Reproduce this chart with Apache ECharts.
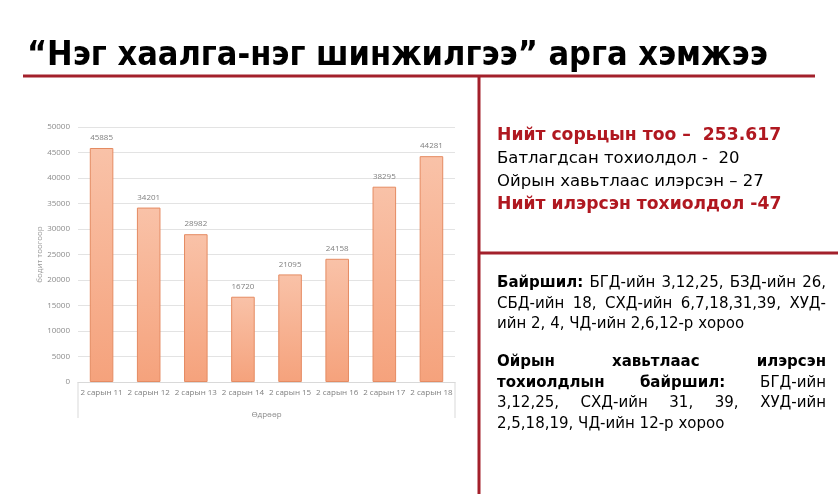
<!DOCTYPE html>
<html>
<head>
<meta charset="utf-8">
<script src="https://cdn.jsdelivr.net/npm/echarts@6/dist/echarts.min.js"></script>
<style>
html,body{margin:0;padding:0;background:#fff;}
#wrap{position:relative;width:838px;height:494px;overflow:hidden;background:#fff;}
#chart{position:absolute;left:0;top:0;width:838px;height:494px;}
.t{position:absolute;white-space:pre;color:#000;}
#title{left:27px;top:33px;font-family:"DejaVu Sans Condensed","DejaVu Sans",sans-serif;font-weight:bold;font-size:34px;}
.r1{left:497px;font-family:"DejaVu Sans",sans-serif;font-size:16.5px;line-height:23px;}
.red{color:#b01820;font-weight:bold;font-size:17.2px;}
.pl{position:absolute;left:497px;width:329px;font-family:"DejaVu Sans",sans-serif;font-size:15px;line-height:20px;height:20px;white-space:nowrap;color:#000;overflow:visible;}
.pl.j{text-align:justify;text-align-last:justify;}
</style>
</head>
<body>
<div id="wrap">
<div id="chart"></div>
<div class="t" id="title"></div>
<div class="t r1 red" style="top:123px" id="l1"></div>
<div class="t r1" style="top:146px" id="l2"></div>
<div class="t r1" style="top:169px" id="l3"></div>
<div class="t r1 red" style="top:192px" id="l4"></div>
<div id="paras"></div>
</div>
<script>
// ---- data ----
const categories = ["2 сарын 11","2 сарын 12","2 сарын 13","2 сарын 14","2 сарын 15","2 сарын 16","2 сарын 17","2 сарын 18"];
const tests = [45885, 34201, 28982, 16720, 21095, 24158, 38295, 44281];
const yName = "бодит тоогоор";
const xName = "Өдрөөр";
const titleText = "“Нэг хаалга-нэг шинжилгээ” арга хэмжээ";
const summaryLines = [
  "Нийт сорьцын тоо –  253.617",
  "Батлагдсан тохиолдол -  20",
  "Ойрын хавьтлаас илэрсэн – 27",
  "Нийт илэрсэн тохиолдол -47"
];
// each line: [bold part, normal part, justify?]
const para1Lines = [
  ["Байршил:", " БГД-ийн 3,12,25, БЗД-ийн 26,", true],
  ["", "СБД-ийн 18, СХД-ийн 6,7,18,31,39, ХУД-", true],
  ["", "ийн 2, 4, ЧД-ийн 2,6,12-р хороо", false]
];
const para2Lines = [
  ["Ойрын хавьтлаас илэрсэн", "", true],
  ["тохиолдлын байршил:", " БГД-ийн", true],
  ["", "3,12,25, СХД-ийн 31, 39, ХУД-ийн", true],
  ["", "2,5,18,19, ЧД-ийн 12-р хороо", false]
];

// ---- text ----
document.getElementById('title').textContent = titleText;
['l1','l2','l3','l4'].forEach((id,i)=>document.getElementById(id).textContent = summaryLines[i]);
const paras = document.getElementById('paras');
function addLines(lines, top){
  lines.forEach((ln,i)=>{
    const d=document.createElement('div');
    d.className='pl'+(ln[2]?' j':'');
    d.style.top=(top+i*20.5)+'px';
    if(ln[0]){const b=document.createElement('b');b.textContent=ln[0];d.appendChild(b);}
    if(ln[1]) d.appendChild(document.createTextNode(ln[1]));
    paras.appendChild(d);
  });
}
addLines(para1Lines, 272);
addLines(para2Lines, 351);

// ---- chart ----
const chart = echarts.init(document.getElementById('chart'), null, {renderer:'canvas'});
const G = {left:78, right:383, top:127, bottom:112};
const red = '#a3202b';
chart.setOption({
  animation:false,
  textStyle:{fontFamily:'"Open Sans","Liberation Sans",sans-serif'},
  grid:{left:G.left, right:G.right, top:G.top, bottom:G.bottom, containLabel:false},
  xAxis:{
    type:'category', data:categories,
    name:xName, nameLocation:'middle', nameGap:29,
    nameTextStyle:{color:'#8c8c8c', fontSize:8},
    axisLine:{show:true, lineStyle:{color:'#d9d9d9'}},
    axisTick:{show:false},
    axisLabel:{color:'#7f7f7f', fontSize:8, margin:7, interval:0}
  },
  yAxis:{
    type:'value', min:0, max:50000, interval:5000,
    name:yName, nameLocation:'middle', nameGap:34, nameRotate:90,
    nameTextStyle:{color:'#9a9a9a', fontSize:8},
    axisLine:{show:false}, axisTick:{show:false},
    axisLabel:{color:'#8c8c8c', fontSize:8, margin:8, formatter:v=>String(v)},
    splitLine:{lineStyle:{color:'#e3e3e3', width:1}}
  },
  series:[{
    type:'bar', data:tests, barWidth:'50%',
    itemStyle:{
      color:new echarts.graphic.LinearGradient(0,0,0,1,[{offset:0,color:'#f9c2a8'},{offset:1,color:'#f5a27c'}]),
      borderColor:'#e58b62', borderWidth:1
    },
    label:{show:true, position:'top', color:'#7f7f7f', fontSize:8, distance:6}
  }],
  graphic:[
    {type:'line', shape:{x1:G.left, y1:494-G.bottom, x2:G.left, y2:418}, style:{stroke:'#d9d9d9', lineWidth:1}},
    {type:'line', shape:{x1:838-G.right, y1:494-G.bottom, x2:838-G.right, y2:418}, style:{stroke:'#d9d9d9', lineWidth:1}},
    {type:'line', shape:{x1:23, y1:76, x2:815, y2:76}, style:{stroke:red, lineWidth:3}},
    {type:'line', shape:{x1:479, y1:76, x2:479, y2:494}, style:{stroke:red, lineWidth:3}},
    {type:'line', shape:{x1:479, y1:253, x2:838, y2:253}, style:{stroke:red, lineWidth:3}}
  ]
});
</script>
</body>
</html>
